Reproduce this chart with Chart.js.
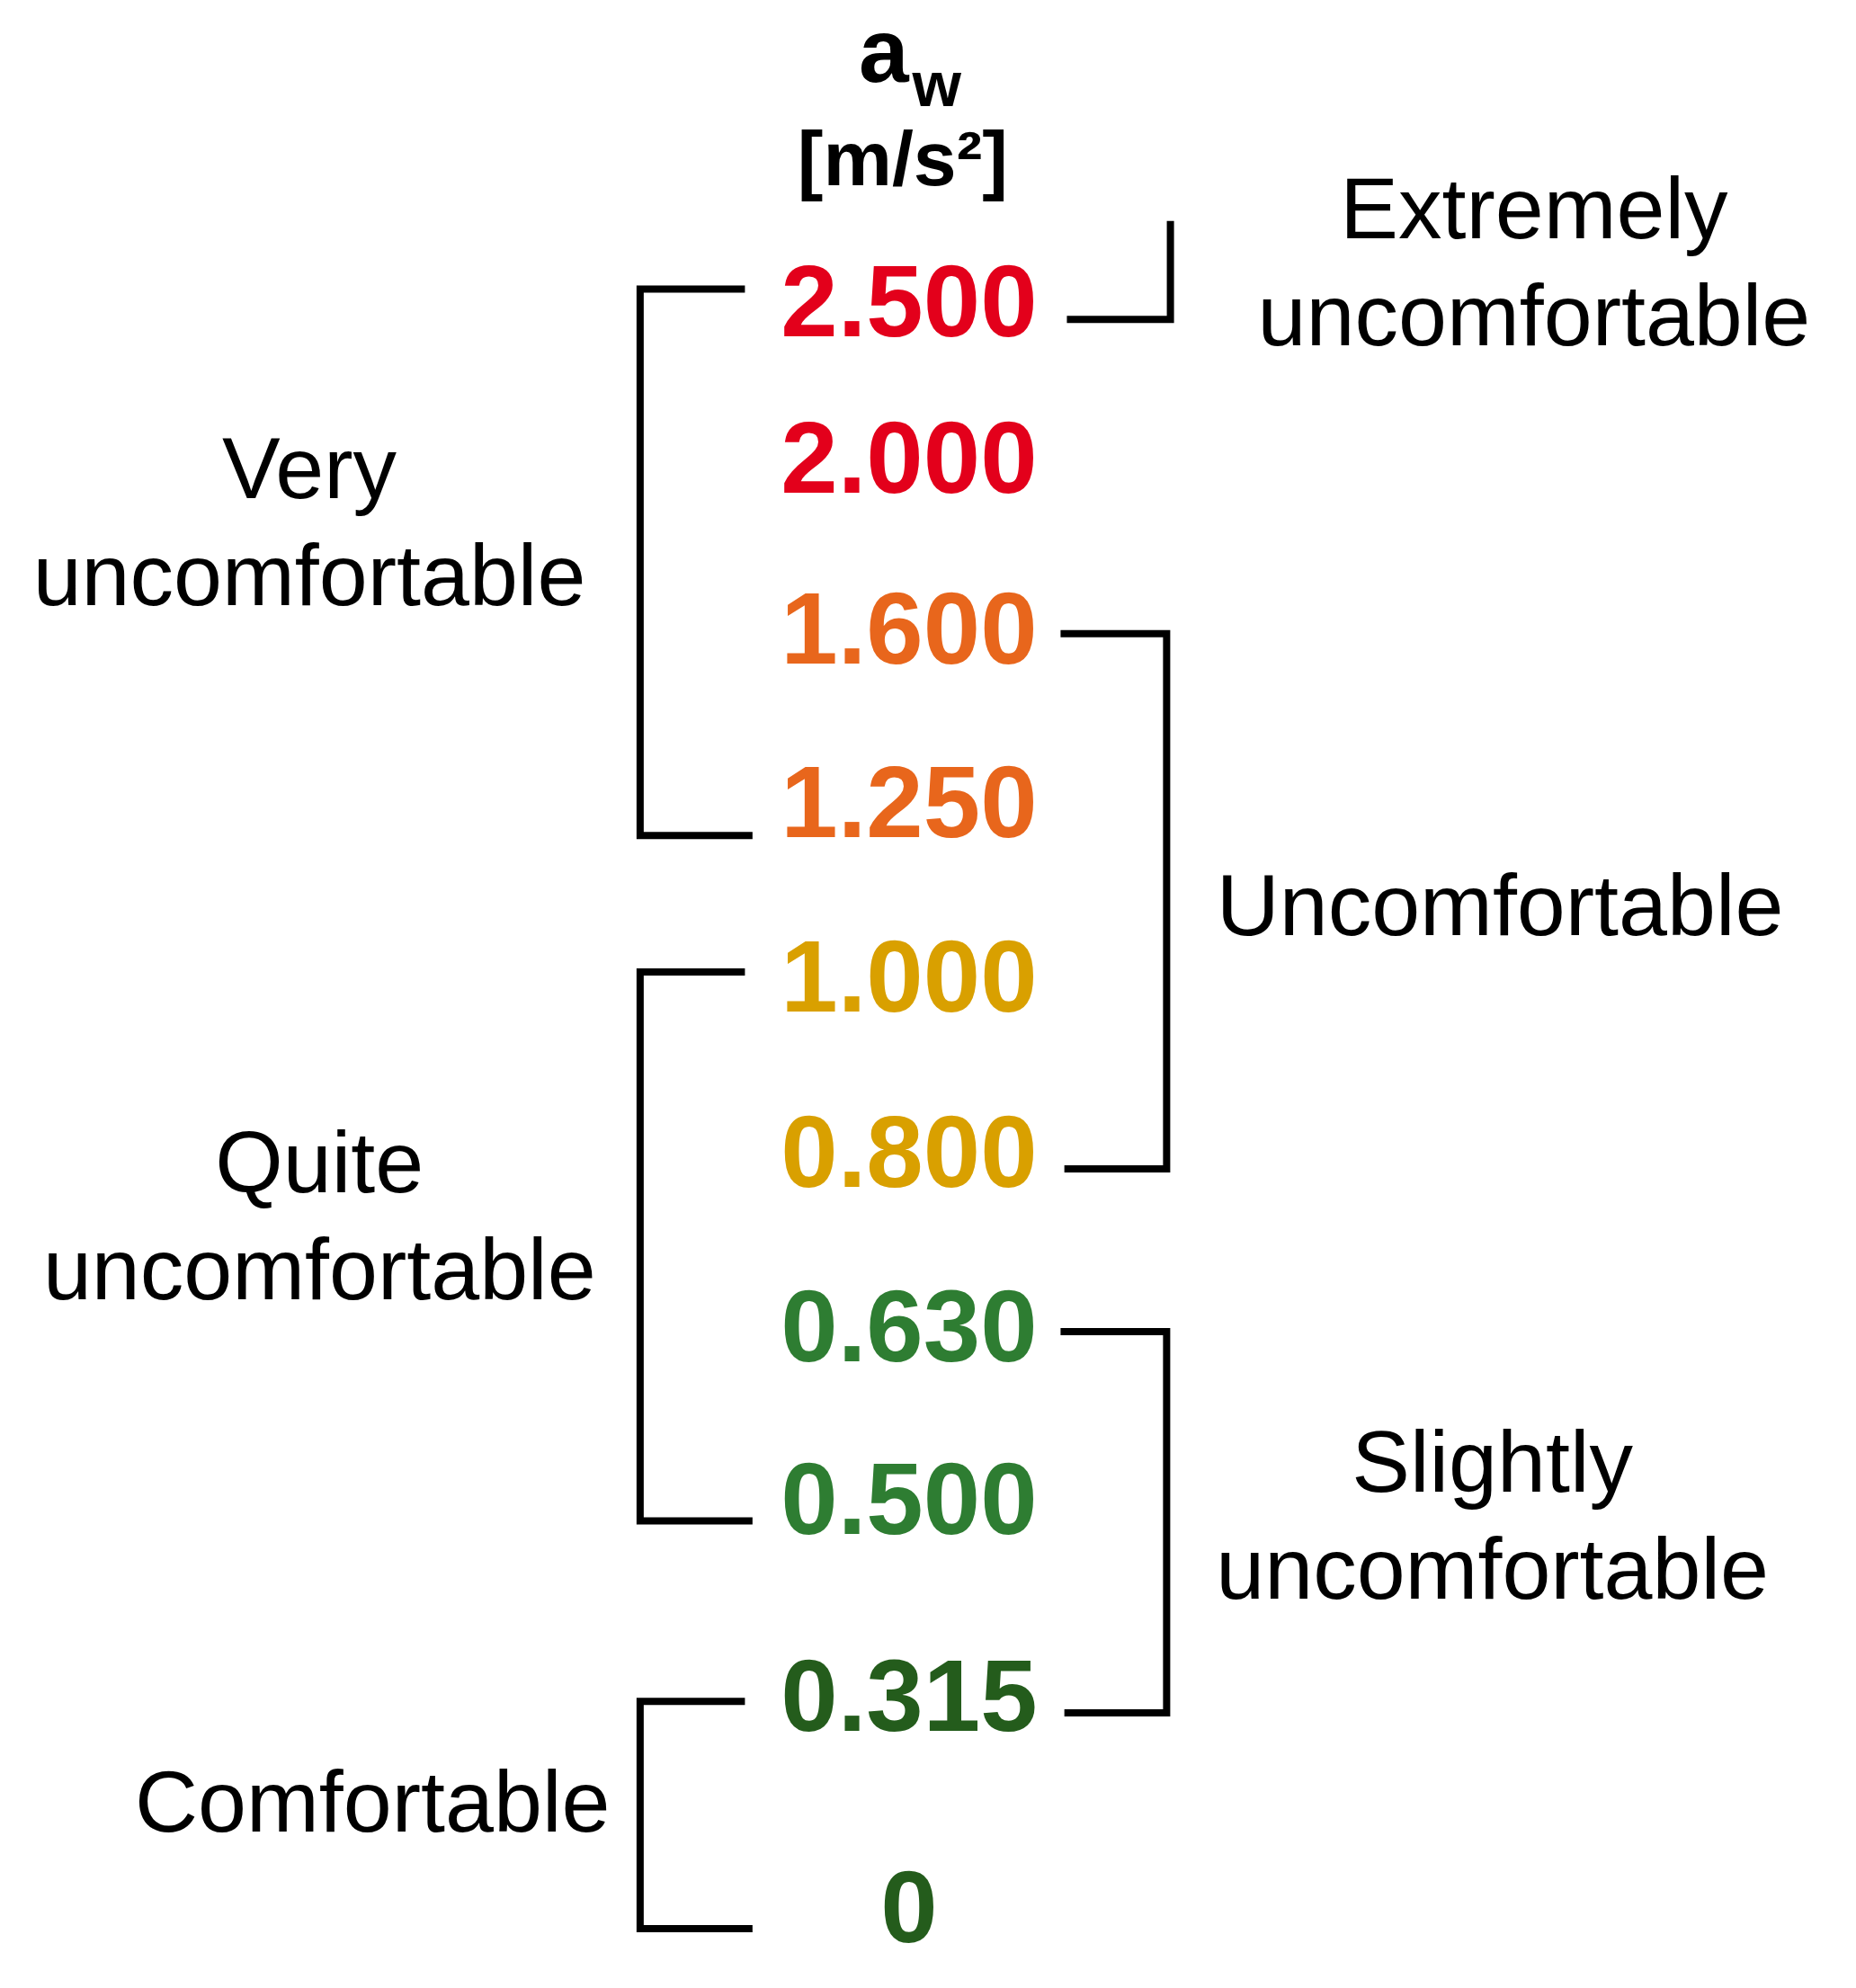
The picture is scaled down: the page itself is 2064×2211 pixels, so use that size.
<!DOCTYPE html>
<html><head><meta charset="utf-8">
<script src="https://cdn.jsdelivr.net/npm/chart.js@4"></script>
<style>html,body{margin:0;padding:0;background:#fff}canvas{display:block}</style>
</head><body>
<canvas id="c" width="2064" height="2211" style="width:2064px;height:2211px"></canvas>
<script>
// Data
const values = ['2.500','2.000','1.600','1.250','1.000','0.800','0.630','0.500','0.315','0'];
const valueColors = ['#e3001b','#e3001b','#e8661c','#e8661c','#d9a000','#d9a000','#2e7d32','#2e7d32','#245c1c','#245c1c'];
const rowY = [238,362,497,635,773,912,1050,1187,1343,1510]; // row positions on the vertical axis
const leftGroups = [
  {label:['Very','uncomfortable'], from:0, to:3, tx:245, ty:418, top:229, bot:662},
  {label:['Quite','uncomfortable'], from:4, to:7, tx:253, ty:968, top:770, bot:1205},
  {label:['Comfortable'], from:8, to:9, tx:295, ty:1432, top:1348, bot:1528}
];
const rightGroups = [
  {label:['Extremely','uncomfortable'], tx:1215, ty:212},
  {label:['Uncomfortable'], from:2, to:5, tx:1188, ty:722},
  {label:['Slightly','uncomfortable'], from:6, to:8, tx:1182, ty:1205}
];

const ds = [];
leftGroups.forEach(g=>{
  ds.push({data:[{x:590,y:g.top},{x:507,y:g.top},{x:507,y:g.bot},{x:596,y:g.bot}]});
});
ds.push({data:[{x:845,y:253},{x:927,y:253},{x:927,y:175}]});
rightGroups.slice(1).forEach(g=>{
  const a=rowY[g.from]+5, b=rowY[g.to]+14;
  ds.push({data:[{x:840,y:a},{x:924,y:a},{x:924,y:b},{x:843,y:b}]});
});
ds.forEach(d=>{Object.assign(d,{showLine:true,borderColor:'#000',borderWidth:8,pointRadius:0,fill:false,tension:0,borderJoinStyle:'miter',borderCapStyle:'butt'});});

const textPlugin = {
  id:'texts',
  afterDatasetsDraw(chart){
    const ctx=chart.ctx, X=chart.scales.x, Y=chart.scales.y;
    const px=v=>X.getPixelForValue(v), py=v=>Y.getPixelForValue(v);
    ctx.save();
    ctx.textAlign='center'; ctx.textBaseline='middle';
    ctx.font='bold 114px "Liberation Sans", Arial, sans-serif';
    values.forEach((v,i)=>{ctx.fillStyle=valueColors[i]; ctx.fillText(v, px(720), py(rowY[i]+6));});
    ctx.fillStyle='#000';
    ctx.font='bold 100px "Liberation Sans", Arial, sans-serif';
    ctx.fillText('a', px(700), py(45));
    ctx.font='bold 70px "Liberation Sans", Arial, sans-serif';
    ctx.fillText('w', px(742), py(70));
    ctx.font='bold 86px "Liberation Sans", Arial, sans-serif';
    ctx.fillText('[m/s²]', px(715), py(130));
    ctx.font='97px "Liberation Sans", Arial, sans-serif';
    const drawLabel=g=>{
      const n=g.label.length, lh=85;
      g.label.forEach((t,k)=>ctx.fillText(t, px(g.tx), py(g.ty+(k-(n-1)/2)*lh)));
    };
    leftGroups.forEach(drawLabel);
    rightGroups.forEach(drawLabel);
    ctx.restore();
  }
};

new Chart(document.getElementById('c'),{
  type:'scatter',
  data:{datasets:ds},
  options:{
    responsive:false, animation:false, devicePixelRatio:1,
    layout:{padding:0},
    plugins:{legend:{display:false},tooltip:{enabled:false}},
    scales:{
      x:{type:'linear',min:0,max:1470,display:false},
      y:{type:'linear',min:0,max:1575,reverse:true,display:false}
    }
  },
  plugins:[textPlugin]
});
</script>
</body></html>
